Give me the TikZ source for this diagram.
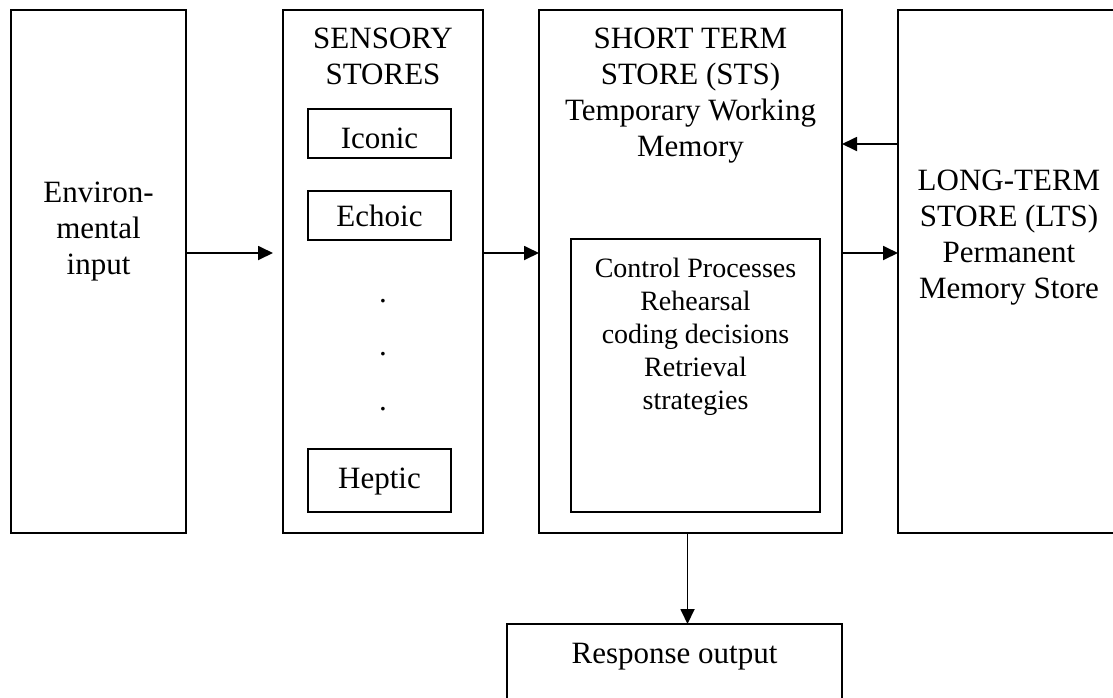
\documentclass[tikz,border=0pt]{standalone}
\usepackage{fontspec}
\setmainfont{Liberation Serif}
\usetikzlibrary{arrows.meta}
\begin{document}
\begin{tikzpicture}[x=1pt,y=-1pt,
  box/.style={draw, line width=1.8pt, inner sep=0pt, outer sep=0pt},
  txt/.style={font=\fontsize{31}{36}\selectfont, align=center, anchor=base, inner sep=0pt},
  stxt/.style={font=\fontsize{28}{33}\selectfont, align=center, anchor=base, inner sep=0pt},
  arr/.style={line width=1.8pt, -{Triangle[length=15pt,width=14pt]}}]
\useasboundingbox (0,0) rectangle (1113,697);
\clip (0,0) rectangle (1113,697);
% boxes
\node[box, minimum width=175pt, minimum height=523pt] (env) at (98.5,271.5) {};
\node[box, minimum width=200pt, minimum height=523pt] (sens) at (383,271.5) {};
\node[box, minimum width=143pt, minimum height=49pt] (iconic) at (379.5,133.5) {};
\node[box, minimum width=143pt, minimum height=49pt] (echoic) at (379.5,215.5) {};
\node[box, minimum width=143pt, minimum height=63pt] (heptic) at (379.5,480.5) {};
\node[box, minimum width=303pt, minimum height=523pt] (sts) at (690.5,271.5) {};
\node[box, minimum width=249pt, minimum height=273pt] (ctrl) at (695.5,375.5) {};
\node[box, minimum width=222pt, minimum height=523pt] (lts) at (1009,271.5) {};
\node[box, minimum width=335pt, minimum height=96pt] (resp) at (674.5,672) {};
% texts (anchor base = baseline of last line)
\node[txt] (envt) at (98.5,274) {Environ-\\mental\\input};
\node[txt] (senst) at (383,84) {SENSORY\\STORES};
\node[txt] (iconict) at (379.5,148) {Iconic};
\node[txt] (echoict) at (379.5,226) {Echoic};
\node[txt] (heptict) at (379.5,488) {Heptic};
\node[txt] (dot1) at (383,302) {.};
\node[txt] (dot2) at (383,355) {.};
\node[txt] (dot3) at (383,410) {.};
\node[txt] (stst) at (690.5,156) {SHORT TERM\\STORE (STS)\\Temporary Working\\Memory};
\node[stxt] (ctrlt) at (695.5,409) {Control Processes\\Rehearsal\\coding decisions\\Retrieval\\strategies};
\node[txt] (ltst) at (1009,298) {LONG-TERM\\STORE (LTS)\\Permanent\\Memory Store};
\node[txt] (respt) at (674.5,663) {Response output};
% connectors
\draw[arr, shorten >=10pt] (env.east |- 0,253) -- (sens.west |- 0,253);
\draw[arr] (sens.east |- 0,253) -- (sts.west |- 0,253);
\draw[arr] (sts.east |- 0,253) -- (lts.west |- 0,253);
\draw[arr] (lts.west |- 0,144) -- (sts.east |- 0,144);
\draw[arr] (sts.south -| 687.5,0) -- (resp.north -| 687.5,0);
\end{tikzpicture}
\end{document}
